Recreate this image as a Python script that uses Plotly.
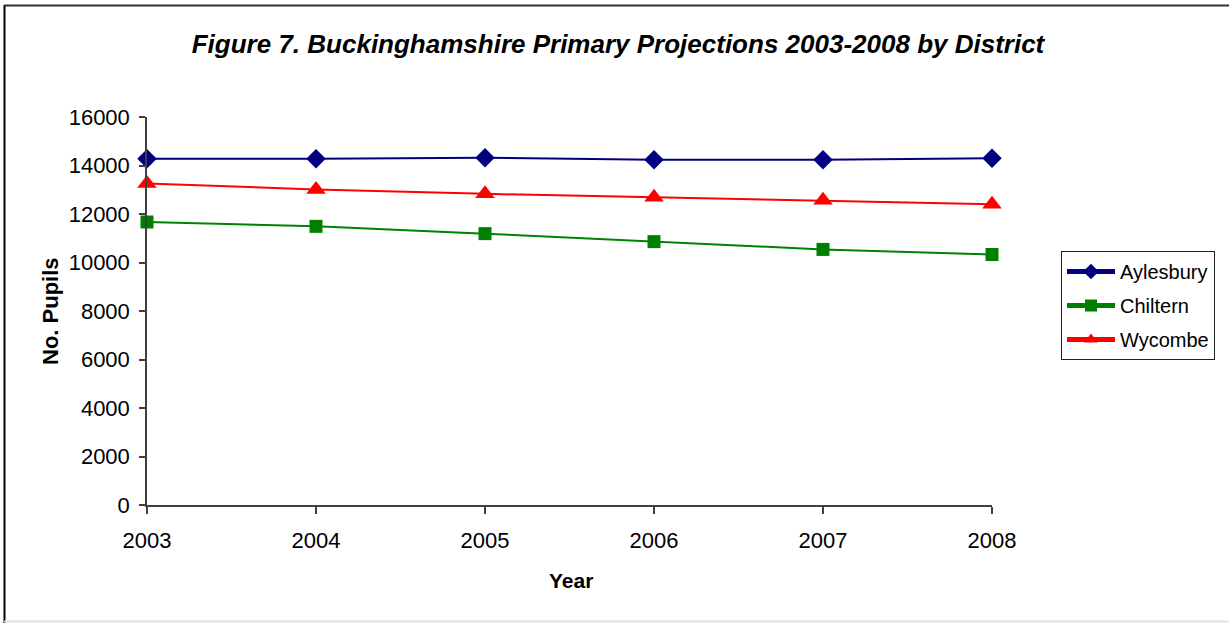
import plotly.graph_objects as go

years = [2003, 2004, 2005, 2006, 2007, 2008]
aylesbury = [14280, 14280, 14320, 14240, 14240, 14300]
chiltern = [11670, 11490, 11190, 10860, 10540, 10330]
wycombe = [13260, 13010, 12830, 12690, 12570, 12400]

y_ticks = [0, 2000, 4000, 6000, 8000, 10000, 12000, 14000, 16000]

FONT = "Arial, Liberation Sans, sans-serif"
W, H = 1229, 623
L, R, T, B = 147, 237, 117, 118
pw, ph = W - L - R, H - T - B

fig = go.Figure()
series = [
    ("Aylesbury", aylesbury, "#000080", "diamond", 15),
    ("Chiltern", chiltern, "#008000", "square", 13),
    ("Wycombe", wycombe, "#FF0000", "triangle-up", 17),
]
for name, vals, col, sym, sz in series:
    fig.add_trace(go.Scatter(
        x=years, y=vals, name=name, mode="lines+markers",
        line=dict(color=col, width=2),
        marker=dict(symbol=sym, size=sz, color=col),
        legendgroup=name, cliponaxis=False,
    ))

def px_x(p):
    return (p - L) / pw

def px_y(p):
    return (H - B - p) / ph

fig.update_layout(
    width=W, height=H,
    margin=dict(l=L, r=R, t=T, b=B, autoexpand=False),
    paper_bgcolor="white", plot_bgcolor="white",
    font=dict(family=FONT, size=22, color="black"),
    title=dict(text="<b><i>Figure 7. Buckinghamshire Primary Projections 2003-2008 by District</i></b>",
               x=618 / W, xanchor="center", y=1 - 44 / H, yanchor="middle", yref="container",
               font=dict(family=FONT, size=26, color="black")),
    xaxis=dict(range=[2003, 2008], tickvals=years, ticktext=[str(y) for y in years],
               showgrid=False, zeroline=False, showline=True, linecolor="#404040", linewidth=1.5,
               ticks="outside", ticklen=7, tickcolor="#404040", tickwidth=1.5,
               ticklabelstandoff=8, tickfont=dict(size=22)),
    yaxis=dict(range=[0, 16000], tickvals=y_ticks, ticktext=[str(v) for v in y_ticks],
               showgrid=False, zeroline=False, showline=True, linecolor="#404040", linewidth=1.5,
               ticks="outside", ticklen=6, tickcolor="#404040", tickwidth=1.5,
               ticklabelstandoff=5, tickfont=dict(size=22)),
    legend=dict(x=px_x(1061), y=px_y(251), xanchor="left", yanchor="top",
                bordercolor="#202020", borderwidth=1, bgcolor="white",
                font=dict(size=20), tracegroupgap=5, itemsizing="constant", itemwidth=48),
    showlegend=True,
    annotations=[
        dict(text="<b>Year</b>", x=px_x(571), y=px_y(580), xref="paper", yref="paper",
             xanchor="center", yanchor="middle", showarrow=False, font=dict(size=21)),
        dict(text="<b>No. Pupils</b>", x=px_x(50), y=px_y(311), xref="paper", yref="paper",
             xanchor="center", yanchor="middle", showarrow=False, textangle=-90, font=dict(size=22)),
    ],
    shapes=[
        dict(type="line", xref="paper", yref="paper", x0=px_x(4.5), x1=px_x(4.5), y0=px_y(5), y1=px_y(623),
             line=dict(color="black", width=2)),
        dict(type="line", xref="paper", yref="paper", x0=px_x(4), x1=px_x(1229), y0=px_y(5.5), y1=px_y(5.5),
             line=dict(color="#303030", width=2)),
        dict(type="line", xref="paper", yref="paper", x0=px_x(4), x1=px_x(1229), y0=px_y(621.5), y1=px_y(621.5),
             line=dict(color="#e0e0e0", width=2)),
    ],
)

fig.write_html("out.html", config={"displayModeBar": False},
               post_script="document.body.style.margin='0';document.body.style.overflow='hidden';")
